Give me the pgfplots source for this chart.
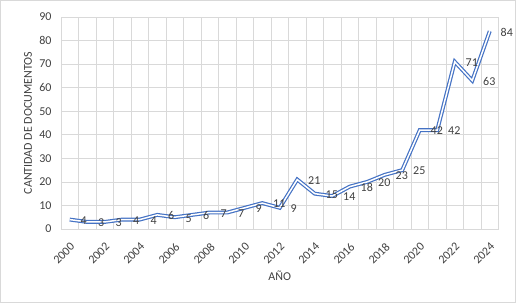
\documentclass[border=0pt]{standalone}
\usepackage{fontspec}
\setmainfont{Carlito}
\usepackage{pgfplots}
\pgfplotsset{compat=1.18}
\definecolor{lineblue}{HTML}{4472C4}
\definecolor{gridgray}{HTML}{D9D9D9}
\definecolor{txt}{HTML}{404040}
\definecolor{lbl}{HTML}{404040}
\begin{document}
\begin{tikzpicture}
\path[use as bounding box] (0,0) rectangle (516bp,303bp);
\draw[gridgray, line width=1bp] (0.5bp,0.5bp) rectangle (515.5bp,302.5bp);
\begin{axis}[
  at={(61bp,74bp)}, anchor=south west,
  width=437.5bp, height=212bp, scale only axis,
  xmin=-0.5, xmax=24.5, ymin=0, ymax=90,
  xtick={0,2,4,6,8,10,12,14,16,18,20,22,24},
  xticklabels={2000,2002,2004,2006,2008,2010,2012,2014,2016,2018,2020,2022,2024},
  minor xtick={-0.5,0.5,...,24.5},
  ytick={0,10,...,90},
  xminorgrids, ymajorgrids,
  grid style={gridgray, line width=0.75bp},
  minor grid style={gridgray, line width=0.75bp},
  axis line style={gridgray, line width=0.75bp},
  major tick length=0pt, minor tick length=0pt,
  /pgf/number format/assume math mode=true,
  tick label style={font=\fontsize{12bp}{14bp}\selectfont, text=txt},
  yticklabel style={xshift=-6bp},
  xticklabel style={rotate=45, anchor=north east, inner sep=0pt},
  xticklabel shift=12.7bp,
  every axis y label/.style={at={(axis description cs:-0.0754,0.5)}, rotate=90, anchor=center, font=\fontsize{12bp}{14bp}\selectfont, text=txt},
  every axis x label/.style={at={(axis description cs:0.5,-0.222)}, anchor=center, font=\fontsize{12bp}{14bp}\selectfont, text=txt},
  ylabel={CANTIDAD DE DOCUMENTOS},
  xlabel={AÑO},
  nodes near coords,
  nodes near coords style={anchor=west, xshift=7bp, yshift=-1bp, font=\fontsize{12bp}{14bp}\selectfont, text=lbl},
]
\addplot[draw=lineblue, double=white, double distance=1.5bp, line width=1.2bp, mark=none] coordinates {
(0,4) (1,3) (2,3) (3,4) (4,4) (5,6) (6,5) (7,6) (8,7) (9,7)
(10,9) (11,11) (12,9) (13,21) (14,15) (15,14) (16,18) (17,20) (18,23) (19,25)
(20,42) (21,42) (22,71) (23,63) (24,84)
};
\end{axis}
\end{tikzpicture}
\end{document}
